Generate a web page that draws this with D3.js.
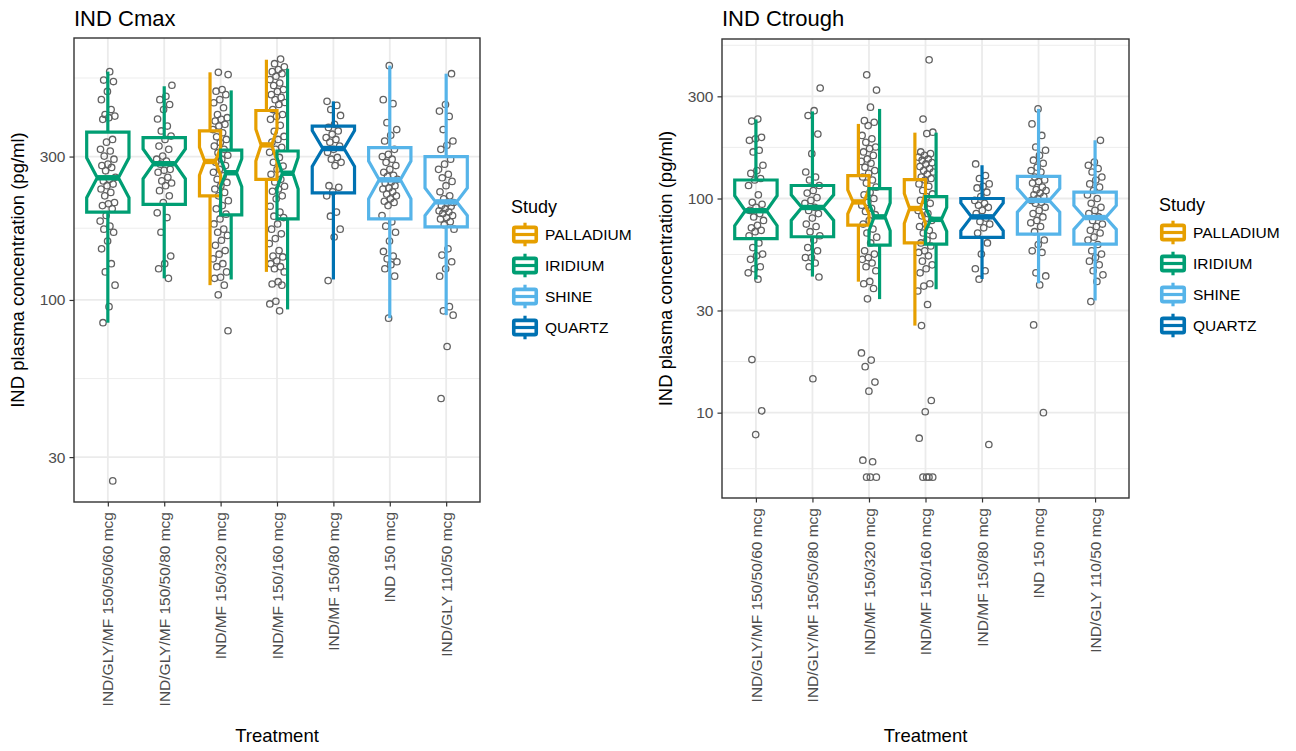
<!DOCTYPE html>
<html><head><meta charset="utf-8">
<script src="https://cdn.jsdelivr.net/npm/d3@7"></script>
<style>
body{margin:0;background:#fff}
svg{display:block}
text{font-family:"Liberation Sans",Arial,Helvetica,sans-serif}
</style>
</head><body>
<svg id="chart" width="1296" height="751"></svg>
<script>
const categories = ["IND/GLY/MF 150/50/60 mcg", "IND/GLY/MF 150/50/80 mcg", "IND/MF 150/320 mcg", "IND/MF 150/160 mcg", "IND/MF 150/80 mcg", "IND 150 mcg", "IND/GLY 110/50 mcg"];
const studies = ["PALLADIUM", "IRIDIUM", "SHINE", "QUARTZ"];
const studyColors = ["#E69F00", "#009E73", "#56B4E9", "#0072B2"];

// boxes: one per (treatment, study)
const boxCategory = [0, 1, 2, 2, 3, 3, 4, 5, 6];
const boxStudy    = [1, 1, 0, 1, 0, 1, 3, 2, 2];

// IND Cmax box statistics (pg/ml)
const cmaxWhiskerLow  = [84, 118, 112, 117, 124, 93, 117, 87, 89];
const cmaxQ1          = [196, 208, 222, 192, 252, 186, 227, 186, 175];
const cmaxMedian      = [255, 284, 289, 265, 328, 264, 319, 251, 212];
const cmaxQ3          = [362, 347, 365, 315, 427, 313, 379, 321, 300];
const cmaxWhiskerHigh = [575, 514, 572, 498, 630, 588, 458, 602, 566];
const cmaxNotchLow    = [219, 253, 260, 238, 290, 234, 278, 217, 191];
const cmaxNotchHigh   = [297, 318, 322, 295, 370, 298, 366, 290, 236];

// IND Cmax individual values per treatment
const cmaxPoints = [
  [575, 539, 533, 494, 464, 430, 414, 409, 404, 399, 342, 335, 317, 313, 301, 294, 283, 280, 276, 269, 256, 252, 249, 243, 240, 234, 228, 222, 211, 209, 206, 201, 191, 183, 176, 172, 168, 157, 148, 132, 124, 112, 95, 84, 25],
  [518, 476, 464, 447, 430, 400, 379, 365, 351, 342, 325, 317, 301, 294, 290, 283, 272, 270, 266, 256, 249, 245, 240, 231, 222, 211, 195, 188, 168, 140, 132, 127, 118],
  [572, 562, 501, 495, 482, 464, 453, 436, 414, 404, 399, 394, 384, 379, 369, 360, 349, 342, 334, 325, 317, 309, 303, 294, 287, 280, 272, 266, 259, 252, 246, 240, 234, 228, 222, 214, 206, 201, 193, 186, 179, 172, 168, 164, 158, 152, 146, 142, 137, 132, 129, 124, 119, 118, 112, 104, 79],
  [633, 611, 597, 584, 575, 566, 555, 541, 527, 517, 501, 494, 482, 472, 464, 454, 447, 430, 414, 408, 399, 381, 364, 350, 342, 335, 322, 317, 310, 298, 287, 279, 272, 262, 252, 247, 239, 234, 230, 222, 217, 205, 196, 190, 188, 179, 172, 166, 160, 154, 146, 140, 139, 135, 132, 129, 127, 124, 115, 113, 112, 99, 97, 92],
  [458, 444, 430, 411, 384, 375, 365, 356, 347, 342, 335, 325, 317, 310, 298, 294, 287, 280, 240, 237, 229, 222, 196, 190, 172, 162, 116],
  [602, 464, 450, 389, 369, 353, 338, 317, 305, 300, 294, 287, 280, 272, 266, 260, 258, 252, 247, 245, 240, 236, 234, 229, 225, 222, 217, 213, 211, 206, 191, 182, 176, 168, 157, 145, 140, 137, 134, 131, 127, 120, 87],
  [566, 447, 425, 408, 369, 338, 327, 317, 294, 283, 272, 262, 255, 248, 240, 229, 222, 217, 211, 210, 206, 205, 201, 198, 196, 194, 191, 188, 186, 182, 178, 172, 148, 141, 134, 127, 120, 95, 92, 89, 70, 47]
];

// IND Ctrough box statistics (pg/ml)
const ctroughWhiskerLow  = [41.9, 43.2, 40.9, 33.9, 25.5, 37.7, 42.1, 40.2, 33.4];
const ctroughQ1          = [64.9, 66.3, 75.1, 60.6, 62.1, 61.3, 65.8, 68.2, 61.3];
const ctroughMedian      = [87.7, 90.8, 96.4, 82.1, 89.8, 79.9, 82.1, 98, 81.5];
const ctroughQ3          = [122, 115, 128, 111.3, 122.5, 102, 100, 127, 107];
const ctroughWhiskerHigh = [234, 255, 223, 262, 203, 203, 143, 262, 187];
const ctroughNotchLow    = [74.7, 79, 84.8, 70.7, 76.5, 70.2, 70.7, 86.4, 71.7];
const ctroughNotchHigh   = [103, 104, 109.6, 95.4, 105.5, 90.8, 95.4, 111.6, 92.8];

// IND Ctrough individual values per treatment
const ctroughPoints = [
  [235, 230, 193, 190, 187, 168, 165, 143, 135, 131, 124, 122, 115, 104, 96, 94, 91, 88, 85, 82, 79, 75, 73, 71, 70, 67, 62, 59, 55, 54, 52, 48, 47, 45, 42, 17.7, 10.2, 7.9],
  [328, 257, 244, 200, 162, 133, 126, 122, 115, 109, 106, 101, 98, 95, 91, 88, 85, 81, 76, 74, 70, 67, 64, 59, 57, 53, 53, 50, 48, 43, 14.4],
  [378, 321, 267, 231, 227, 219, 197, 190, 183, 174, 171, 165, 159, 153, 149, 146, 140, 135, 131, 126, 122, 118, 113, 107, 104, 100, 96, 93, 90, 87, 84, 79, 76, 72, 69, 66, 62, 57, 55, 53, 52, 50, 48, 46, 41, 40, 38, 34, 19, 17.6, 16.4, 13.9, 12.6, 6.0, 5.9, 5, 5, 5],
  [444, 235, 204, 201, 165, 162, 159, 156, 153, 151, 147, 145, 141, 138, 135, 133, 130, 126, 124, 122, 117, 114, 109, 105, 102, 98, 95, 92, 88, 85, 83, 79, 76, 74, 71, 69, 67, 64, 62, 60, 57, 56, 54, 51, 49, 47, 45, 40, 39, 37, 32, 25.5, 11.4, 10.1, 7.6, 5, 5, 5, 5],
  [145, 128, 124, 117, 114, 112, 107, 102, 98, 95, 93, 91, 88, 85, 81, 78, 76, 73, 69, 62, 55, 47, 46, 42, 7.1],
  [262, 223, 197, 174, 168, 159, 151, 146, 140, 135, 133, 126, 122, 120, 118, 113, 110, 109, 106, 104, 102, 100, 98, 96, 95, 91, 88, 85, 82, 79, 77, 74, 70, 64, 61, 57, 56, 45, 43.5, 39.5, 25.7, 10],
  [187, 148, 143, 138, 133, 126, 122, 117, 113, 109, 104, 100, 95, 91, 88, 85, 82, 79, 76, 74, 71, 69, 66, 64, 61, 57, 55, 53, 51, 49, 46, 44, 41, 33]
];

const cmaxMajorTicks = [30, 100, 300];
const cmaxMinorTicks = [54.77, 173.2, 547.7];
const ctroughMajorTicks = [10, 30, 100, 300];
const ctroughMinorTicks = [5.477, 17.32, 54.77, 173.2, 519.6];

const svg = d3.select("#chart");
const LW = 3.2;

function drawPanel(cfg) {
  const {left, right, top, bottom, title, points, stats, majors, minors} = cfg;
  const g = svg.append("g");
  const x = d3.scalePoint().domain(categories).range([left, right]).padding(0.6);
  const step = x.step();
  const allVals = points.flat().concat(stats.wLow, stats.wHigh);
  const lo = Math.log10(d3.min(allVals)), hi = Math.log10(d3.max(allVals));
  const pad = (hi - lo) * 0.05;
  const y = d3.scaleLog().domain([Math.pow(10, lo - pad), Math.pow(10, hi + pad)]).range([bottom, top]);

  // grid
  g.selectAll(".minor").data(minors).join("line")
    .attr("x1", left).attr("x2", right)
    .attr("y1", d => y(d)).attr("y2", d => y(d))
    .attr("stroke", "#EBEBEB").attr("stroke-width", 0.9);
  g.selectAll(".majorY").data(majors).join("line")
    .attr("x1", left).attr("x2", right)
    .attr("y1", d => y(d)).attr("y2", d => y(d))
    .attr("stroke", "#EBEBEB").attr("stroke-width", 1.8);
  g.selectAll(".majorX").data(categories).join("line")
    .attr("x1", d => x(d)).attr("x2", d => x(d))
    .attr("y1", top).attr("y2", bottom)
    .attr("stroke", "#EBEBEB").attr("stroke-width", 1.8);

  // jittered points (deterministic offsets)
  points.forEach((vals, c) => {
    g.selectAll(null).data(vals).join("circle")
      .attr("cx", (d, i) => x(categories[c]) + ((((i + 1) * 0.618034 + c * 0.37) % 1) - 0.5) * 0.28 * step)
      .attr("cy", d => y(d))
      .attr("r", 3.2)
      .attr("fill", "none").attr("stroke", "#626262").attr("stroke-width", 1.3);
  });

  // boxes
  const boxW = 0.75 * step;
  boxCategory.forEach((c, i) => {
    const nInCat = boxCategory.filter(v => v === c).length;
    const idxInCat = boxCategory.slice(0, i).filter(v => v === c).length;
    const w = boxW / nInCat;
    const cx = x(categories[c]) - boxW / 2 + w * (idxInCat + 0.5);
    const col = studyColors[boxStudy[i]];
    const xmin = cx - w / 2, xmax = cx + w / 2, ind = 0.25 * w;
    const q1 = y(stats.q1[i]), q3 = y(stats.q3[i]), md = y(stats.med[i]);
    const nl = y(stats.nLow[i]), nh = y(stats.nHigh[i]);
    g.append("line").attr("x1", cx).attr("x2", cx).attr("y1", q3).attr("y2", y(stats.wHigh[i]))
      .attr("stroke", col).attr("stroke-width", LW);
    g.append("line").attr("x1", cx).attr("x2", cx).attr("y1", q1).attr("y2", y(stats.wLow[i]))
      .attr("stroke", col).attr("stroke-width", LW);
    const poly = [[xmin, q3], [xmin, nh], [xmin + ind, md], [xmin, nl], [xmin, q1],
                  [xmax, q1], [xmax, nl], [xmax - ind, md], [xmax, nh], [xmax, q3]];
    g.append("path").attr("d", d3.line()(poly) + "Z")
      .attr("fill", "none").attr("stroke", col).attr("stroke-width", LW).attr("stroke-linejoin", "miter");
    g.append("line").attr("x1", xmin + ind).attr("x2", xmax - ind).attr("y1", md).attr("y2", md)
      .attr("stroke", col).attr("stroke-width", 2 * LW * 0.85);
  });

  // border
  g.append("rect").attr("x", left).attr("y", top).attr("width", right - left).attr("height", bottom - top)
    .attr("fill", "none").attr("stroke", "#333333").attr("stroke-width", 1.4);

  // y axis
  const ya = g.append("g").attr("transform", `translate(${left},0)`)
    .call(d3.axisLeft(y).tickValues(majors).tickFormat(d3.format("d")).tickSize(4.5).tickPadding(4));
  ya.select(".domain").remove();
  ya.selectAll(".tick line").attr("stroke", "#333333").attr("stroke-width", 1.2);
  ya.selectAll(".tick text").attr("fill", "#4D4D4D").style("font-size", "15.5px")
    .style("font-family", '"Liberation Sans",Arial,sans-serif');

  // x axis
  const xa = g.append("g").attr("transform", `translate(0,${bottom})`)
    .call(d3.axisBottom(x).tickSize(4.5).tickFormat(""));
  xa.select(".domain").remove();
  xa.selectAll(".tick line").attr("stroke", "#333333").attr("stroke-width", 1.2);
  g.selectAll(".xlab").data(categories).join("text")
    .attr("transform", d => `translate(${x(d)},${bottom + 10}) rotate(-90)`)
    .attr("text-anchor", "end").attr("dy", "0.36em")
    .attr("fill", "#4D4D4D").style("font-size", "15.5px").text(d => d);

  // titles
  g.append("text").attr("x", left).attr("y", 26).style("font-size", "22px").attr("fill", "#000").text(title);
  g.append("text").attr("x", (left + right) / 2).attr("y", 742).attr("text-anchor", "middle")
    .style("font-size", "18.5px").attr("fill", "#000").text("Treatment");
  g.append("text").attr("transform", `translate(${cfg.ytitleX},${(top + bottom) / 2}) rotate(-90)`)
    .attr("text-anchor", "middle").attr("dy", "0.35em")
    .style("font-size", "18.5px").attr("fill", "#000").text("IND plasma concentration (pg/ml)");

  // legend
  const lg = g.append("g").attr("transform", `translate(${cfg.legendX},${cfg.legendY})`);
  lg.append("text").attr("x", 1).attr("y", 0).style("font-size", "18px").attr("fill", "#000").text("Study");
  const kw = 30, kh = 31;
  studies.forEach((s, i) => {
    const k = lg.append("g").attr("transform", `translate(0,${6 + i * kh})`);
    const col = studyColors[i];
    k.append("line").attr("x1", kw / 2).attr("x2", kw / 2).attr("y1", 0.12 * kh).attr("y2", 0.88 * kh)
      .attr("stroke", col).attr("stroke-width", LW);
    k.append("rect").attr("x", 0.125 * kw).attr("y", 0.27 * kh).attr("width", 0.75 * kw).attr("height", 0.46 * kh)
      .attr("fill", "#fff").attr("stroke", col).attr("stroke-width", 3.6).attr("rx", 1.5);
    k.append("line").attr("x1", 0.125 * kw).attr("x2", 0.875 * kw).attr("y1", 0.5 * kh).attr("y2", 0.5 * kh)
      .attr("stroke", col).attr("stroke-width", 3.2);
    k.append("text").attr("x", kw + 5).attr("y", kh / 2).attr("dy", "0.36em")
      .style("font-size", "15.5px").attr("fill", "#000").text(s);
  });
}

drawPanel({
  left: 74, right: 480, top: 38, bottom: 502, title: "IND Cmax",
  points: cmaxPoints,
  stats: {wLow: cmaxWhiskerLow, q1: cmaxQ1, med: cmaxMedian, q3: cmaxQ3, wHigh: cmaxWhiskerHigh, nLow: cmaxNotchLow, nHigh: cmaxNotchHigh},
  majors: cmaxMajorTicks, minors: cmaxMinorTicks,
  ytitleX: 18, legendX: 510, legendY: 213
});
drawPanel({
  left: 722, right: 1129, top: 39, bottom: 498, title: "IND Ctrough",
  points: ctroughPoints,
  stats: {wLow: ctroughWhiskerLow, q1: ctroughQ1, med: ctroughMedian, q3: ctroughQ3, wHigh: ctroughWhiskerHigh, nLow: ctroughNotchLow, nHigh: ctroughNotchHigh},
  majors: ctroughMajorTicks, minors: ctroughMinorTicks,
  ytitleX: 666, legendX: 1158, legendY: 211
});
</script>
</body></html>
